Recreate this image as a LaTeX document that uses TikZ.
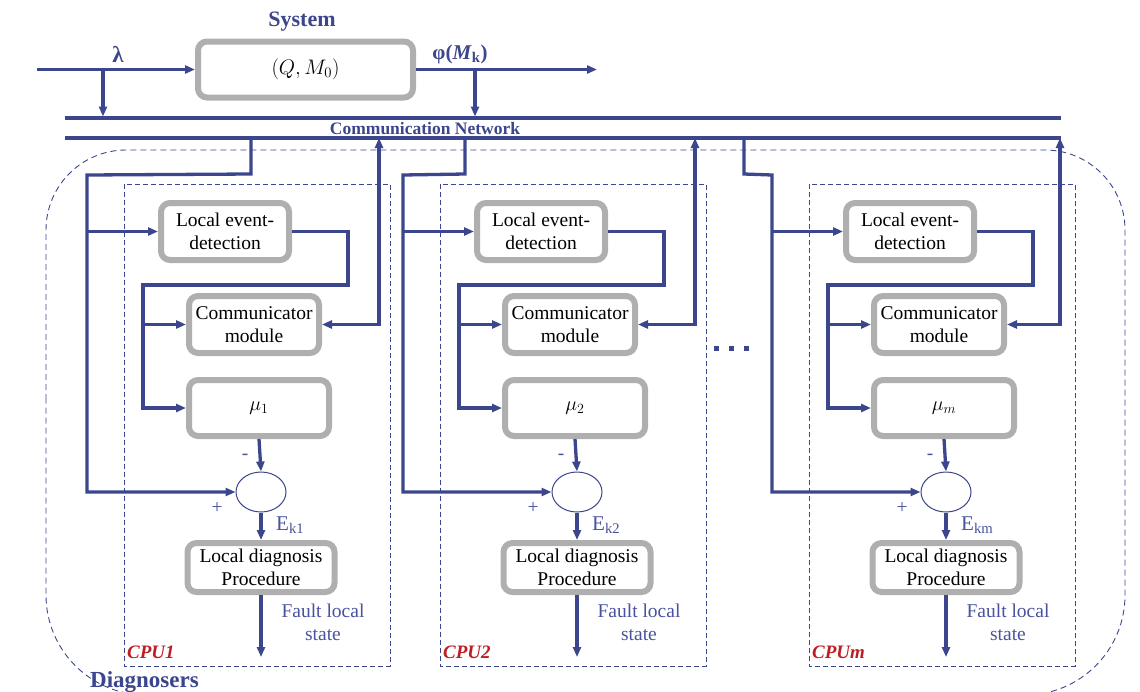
\RequirePackage{fix-cm}
\documentclass[tikz,border=0pt]{standalone}
\usepackage{fontspec}
\setmainfont{Liberation Serif}
\usetikzlibrary{arrows.meta,shapes.geometric}
\definecolor{nblue}{RGB}{59,70,140}
\definecolor{lblue}{RGB}{72,82,158}
\definecolor{bgray}{RGB}{175,175,175}
\definecolor{cpured}{RGB}{190,30,35}
\tikzset{
  wire/.style={draw=nblue, line width=3.3pt},
  arr/.style={-{Triangle[length=10pt,width=8pt]}},
  biarr/.style={{Triangle[length=10pt,width=8pt]}-{Triangle[length=10pt,width=8pt]}},
  gbox/.style={draw=bgray, line width=6pt, rounded corners=9pt, fill=white, align=center, inner sep=0pt, text=black, font=\fontsize{19.5}{23}\selectfont},
  cpudash/.style={draw=nblue, line width=0.9pt, dash pattern=on 5pt off 3pt},
  bigdash/.style={draw=nblue, line width=0.9pt, dash pattern=on 6pt off 4pt},
  sumnode/.style={ellipse, draw=nblue, line width=1pt, fill=white, minimum width=50pt, minimum height=40pt, inner sep=0pt},
  lbl/.style={text=lblue, inner sep=0pt, font=\fontsize{19.5}{23}\selectfont},
  boldlbl/.style={text=nblue, inner sep=0pt, font=\bfseries\fontsize{20}{24}\selectfont},
  cpulbl/.style={text=cpured, inner sep=0pt, font=\bfseries\itshape\fontsize{19}{23}\selectfont},
}
\begin{document}
\begin{tikzpicture}[x=1pt,y=-1pt]
\useasboundingbox (0,0) rectangle (1140,691);
% Diagnosers outline
\draw[bigdash] (46,400) [rounded corners=80pt] -- (46,150) -- (1125,150) -- (1125,400) [rounded corners=100pt] -- (1125,695) -- (46,695) -- (46,400);
% System
\node[boldlbl, font=\bfseries\fontsize{22}{26}\selectfont] (systitle) at (302,22) {System};
\node[gbox, minimum width=215pt, minimum height=56pt, font=\fontsize{21}{25}\selectfont] (sys) at (305.5,69.5) {$\left(Q,M_0\right)$};
\node[boldlbl, font=\bfseries\fontsize{23}{27}\selectfont] (lambda) at (118,54) {λ};
\node[boldlbl, font=\bfseries\fontsize{21}{25}\selectfont] (phi) at (460,54) {φ(\textit{M}\textsubscript{k})};
\coordinate (in) at (37,69.5);
\coordinate (lamj) at (103,69.5);
\coordinate (lamn) at (103,116.5);
\coordinate (out) at (597,69.5);
\coordinate (phij) at (475,69.5);
\coordinate (phin) at (475,116.5);
\draw[wire,arr] (in) -- (sys.west);
\draw[wire,arr] (lamj) -- (lamn);
\draw[wire,arr] (sys.east) -- (out);
\draw[wire,arr] (phij) -- (phin);
% network
\coordinate (n1a) at (65,118);
\coordinate (n1b) at (1061,118);
\coordinate (n2a) at (65,138);
\coordinate (n2b) at (1061,138);
\draw[wire] (n1a) -- (n1b);
\draw[wire] (n2a) -- (n2b);
\node[boldlbl, font=\bfseries\fontsize{17.5}{20}\selectfont] (netlbl) at (425,129) {Communication Network};
% dots
\foreach \x in {716,731,746} \fill[nblue] (\x-2.5,345.5) rectangle (\x+2.5,350.5);
% CPUs
\foreach \i/\dx/\drop/\up in {1/0/251/379, 2/316/465/695, m/685/744/1060} {
  \draw[cpudash] ({124+\dx},184) rectangle ({390+\dx},666);
  \node[gbox, minimum width=128pt, minimum height=57pt] (led\i) at ({225+\dx},231.5) {Local event-\\detection};
  \node[gbox, minimum width=130pt, minimum height=57pt] (com\i) at ({254+\dx},324.5) {Communicator\\module};
  \node[gbox, minimum width=140pt, minimum height=56pt, font=\fontsize{20}{24}\selectfont] (mu\i) at ({259+\dx},408) {$\mu_{\i}$};
  \node[sumnode] (sum\i) at ({261+\dx},492) {};
  \node[gbox, minimum width=147pt, minimum height=49pt] (ldp\i) at ({261+\dx},567.5) {Local diagnosis\\Procedure};
  \coordinate (tap\i) at (\drop,138);
  \coordinate (bend\i) at (\drop,174);
  \coordinate (left\i) at ({87+\dx},175);
  \draw[wire,arr] (tap\i) -- (bend\i) -- (left\i) |- (sum\i.west);
  \coordinate (ledin\i) at ({87+\dx},231.5);
  \draw[wire,arr] (ledin\i) -- (led\i.west);
  \coordinate (ra\i) at ({348+\dx},231.5);
  \coordinate (rb\i) at ({348+\dx},285);
  \coordinate (rc\i) at ({143+\dx},285);
  \draw[wire,arr] (led\i.east) -- (ra\i) -- (rb\i) -- (rc\i) |- (mu\i.west);
  \coordinate (comin\i) at ({143+\dx},324.5);
  \draw[wire,arr] (comin\i) -- (com\i.west);
  \coordinate (up\i) at (\up,138);
  \draw[wire,biarr] (com\i.east) -| (up\i);
  \draw[wire,arr] (mu\i.south) -- (sum\i.north);
  \draw[wire,arr] (sum\i.south) -- (ldp\i.north);
  \coordinate (fault\i) at ({261+\dx},657);
  \draw[wire,arr] (ldp\i.south) -- (fault\i);
  \node[lbl] (minus\i) at ({245+\dx},457) {-};
  \node[lbl] (plus\i) at ({217+\dx},508) {+};
  \node[lbl, anchor=base west, font=\fontsize{21}{25}\selectfont] (ek\i) at ({276+\dx},530) {E\textsubscript{k\i}};
  \node[lbl, align=center] (fls\i) at ({323+\dx},622) {Fault local\\state};
  \node[cpulbl, anchor=base west] (cpu\i) at ({127+\dx},658) {CPU\i};
}
\node[boldlbl, anchor=base west, font=\bfseries\fontsize{23}{27}\selectfont] (diag) at (90,687) {Diagnosers};
\end{tikzpicture}
\end{document}
